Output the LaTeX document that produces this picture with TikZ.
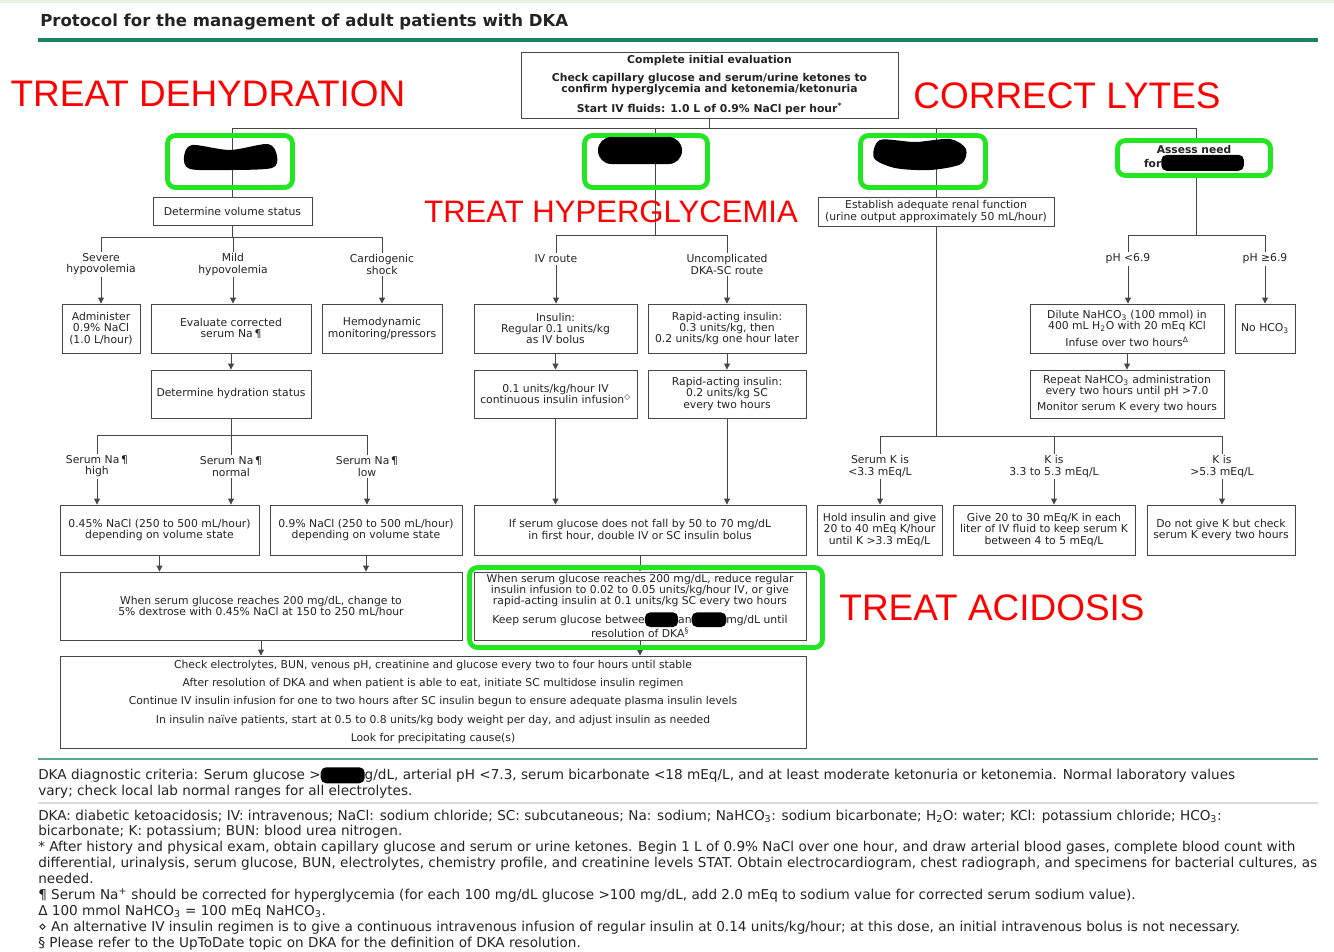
\documentclass[tikz,border=0pt]{standalone}
\usepackage{fontspec}
\setmainfont{DejaVu Sans}
\newfontfamily\redfont{Liberation Sans}
\usetikzlibrary{arrows.meta}

\definecolor{hlgreen}{RGB}{34,230,34}
\definecolor{rulegreen}{RGB}{30,130,95}
\definecolor{rulegreenlt}{RGB}{90,165,135}
\definecolor{boxline}{RGB}{70,70,70}
\definecolor{txt}{RGB}{35,35,35}
\definecolor{sepgray}{RGB}{218,218,218}
\definecolor{topband}{RGB}{232,240,228}

\newcommand{\inkblob}[2][22pt]{\raisebox{-2.5pt}{\tikz\fill[black, rounded corners=4pt] (0pt,0pt) rectangle (#1,#2);}}

\begin{document}
\begin{tikzpicture}[
  x=0.75pt, y=-0.75pt,
  box/.style={
    draw=boxline,
    line width=0.7pt,
    align=center,
    text=txt,
    inner sep=1pt,
    font=\fontsize{8.1}{8.4}\selectfont
  },
  lbl/.style={
    align=center,
    text=txt,
    inner sep=1pt,
    font=\fontsize{8.1}{8.4}\selectfont
  },
  wire/.style={
    draw=boxline,
    line width=0.7pt
  },
  arr/.style={
    wire,
    -{Triangle[length=4.5pt,width=4.5pt]}
  },
  hilite/.style={
    draw=hlgreen,
    line width=3.6pt,
    rounded corners=6pt
  },
  tag/.style={
    text=red,
    inner sep=0pt
  },
  note/.style={
    anchor=north west,
    align=left,
    text=txt,
    inner sep=0pt,
    font=\fontsize{10.2}{11.9}\selectfont
  },
  wh/.style 2 args={
    minimum width=#1*0.75pt,
    minimum height=#2*0.75pt
  }
]

\path[use as bounding box] (0,0) rectangle (1334,951);
\fill[topband] (0,0) rectangle (1334,3);
\node[anchor=west, text=txt, inner sep=0pt, font=\bfseries\fontsize{12.4}{13}\selectfont]
  (title) at (40,22) {Protocol for the management of adult patients with DKA};
\draw[rulegreen, line width=3pt] (38,40) -- (1318,40);

\node[box, wh={377}{66}, font=\bfseries\fontsize{8.1}{8.2}\selectfont] (init) at (709.5,85)
  {Complete initial evaluation\\[5pt]
   Check capillary glucose and serum/urine ketones to\\
   confirm hyperglycemia and ketonemia/ketonuria\\[5pt]
   Start IV fluids: 1.0 L of 0.9\% NaCl per hour\textsuperscript{*}};

\node[box, wh={159}{28}] (vol) at (232.5,211) {Determine volume status};
\node[lbl] (sev) at (101,264.5) {Severe\\hypovolemia};
\node[lbl] (mild) at (233,264.5) {Mild\\hypovolemia};
\node[lbl] (shock) at (382,264.5) {Cardiogenic\\shock};
\node[box, wh={78}{49}] (adm) at (101,328.5) {Administer\\0.9\% NaCl\\(1.0 L/hour)};
\node[box, wh={160}{49}] (evl) at (231,328.5) {Evaluate corrected\\serum Na\,¶};
\node[box, wh={120}{49}] (hemo) at (382,328.5) {Hemodynamic\\monitoring/pressors};
\node[box, wh={160}{48}] (hyd) at (231,394) {Determine hydration status};
\node[lbl] (nahigh) at (97,466.5) {Serum Na\,¶\\high};
\node[lbl] (nanorm) at (231,466.5) {Serum Na\,¶\\normal};
\node[lbl] (nalow) at (367,466.5) {Serum Na\,¶\\low};
\node[box, wh={199}{50}] (half) at (159.5,530)
  {0.45\% NaCl (250 to 500 mL/hour)\\depending on volume state};
\node[box, wh={192}{50}] (full) at (366,530)
  {0.9\% NaCl (250 to 500 mL/hour)\\depending on volume state};
\node[box, wh={402}{68}] (dex) at (261,606)
  {When serum glucose reaches 200 mg/dL, change to\\5\% dextrose with 0.45\% NaCl at 150 to 250 mL/hour};
\node[box, wh={746}{92}, font=\fontsize{8.1}{13.7}\selectfont] (final) at (433,702)
  {Check electrolytes, BUN, venous pH, creatinine and glucose every two to four hours until stable\\
   After resolution of DKA and when patient is able to eat, initiate SC multidose insulin regimen\\
   Continue IV insulin infusion for one to two hours after SC insulin begun to ensure adequate plasma insulin levels\\
   In insulin naïve patients, start at 0.5 to 0.8 units/kg body weight per day, and adjust insulin as needed\\
   Look for precipitating cause(s)};

\node[lbl] (ivroute) at (556,259) {IV route};
\node[lbl] (scroute) at (727,264.5) {Uncomplicated\\DKA-SC route};
\node[box, wh={163}{49}] (ivbolus) at (555.5,328.5) {Insulin:\\Regular 0.1 units/kg\\as IV bolus};
\node[box, wh={158}{49}] (scbolus) at (727,328.5)
  {Rapid-acting insulin:\\0.3 units/kg, then\\0.2 units/kg one hour later};
\node[box, wh={163}{48}] (ivinf) at (555.5,394)
  {0.1 units/kg/hour IV\\continuous insulin infusion\textsuperscript{◇}};
\node[box, wh={158}{48}] (screp) at (727,394) {Rapid-acting insulin:\\0.2 units/kg SC\\every two hours};
\node[box, wh={332}{50}] (nofall) at (640,530)
  {If serum glucose does not fall by 50 to 70 mg/dL\\in first hour, double IV or SC insulin bolus};
\node[box, wh={332}{68}] (reduce) at (640,606)
  {When serum glucose reaches 200 mg/dL, reduce regular\\
   insulin infusion to 0.02 to 0.05 units/kg/hour IV, or give\\
   rapid-acting insulin at 0.1 units/kg SC every two hours\\[3pt]
   Keep serum glucose betwee\inkblob[25pt]{11pt}an\inkblob[26pt]{11pt}mg/dL until\\
   resolution of DKA\textsuperscript{§}};

\node[box, wh={236}{29}] (renal) at (936,211.5)
  {Establish adequate renal function\\(urine output approximately 50 mL/hour)};
\node[lbl] (klow) at (880,466.5) {Serum K is\\<3.3 mEq/L};
\node[lbl] (kmid) at (1054,466.5) {K is\\3.3 to 5.3 mEq/L};
\node[lbl] (khigh) at (1222,466.5) {K is\\>5.3 mEq/L};
\node[box, wh={125}{50}] (holdk) at (879.5,530)
  {Hold insulin and give\\20 to 40 mEq K/hour\\until K >3.3 mEq/L};
\node[box, wh={182}{50}] (givek) at (1044,530)
  {Give 20 to 30 mEq/K in each\\liter of IV fluid to keep serum K\\between 4 to 5 mEq/L};
\node[box, wh={148}{50}] (nok) at (1221,530)
  {Do not give K but check\\serum K every two hours};

\node[lbl] (phlow) at (1128,259) {pH <6.9};
\node[lbl] (phhigh) at (1265,259) {pH ≥6.9};
\node[box, wh={194}{49}] (dilute) at (1127,328.5)
  {Dilute NaHCO\textsubscript{3} (100 mmol) in\\400 mL H\textsubscript{2}O with 20 mEq KCl\\[3pt]
   Infuse over two hours\textsuperscript{Δ}};
\node[box, wh={60}{49}] (nohco) at (1265,328.5) {No HCO\textsubscript{3}};
\node[box, wh={194}{48}] (repeat) at (1127,394)
  {Repeat NaHCO\textsubscript{3} administration\\every two hours until pH >7.0\\[3pt]
   Monitor serum K every two hours};

\coordinate (busA) at (232.5,128);
\coordinate (busB) at (655,128);
\coordinate (busC) at (936,128);
\coordinate (busD) at (1196,128);
\coordinate (volbr) at (232.5,237);
\coordinate (hydbr) at (231,435);
\coordinate (insbr) at (655,235);
\coordinate (kbr) at (936,436);
\coordinate (phbr) at (1196,235);

\draw[wire] (init.south) -- (init.south |- busA);
\draw[wire] (busA) -- (busD);
\draw[wire] (busA) -- (vol.north);
\draw[wire] (busB) -- (insbr);
\draw[wire] (busC) -- (renal.north);

\draw[wire] (vol.south) -- (volbr);
\draw[wire] (sev.north |- volbr) -- (shock.north |- volbr);
\foreach \n in {sev,mild,shock}
  \draw[wire] (\n.north |- volbr) -- (\n.north);
\draw[arr] (sev) -- (adm);
\draw[arr] (mild.south) -- (mild.south |- evl.north);
\draw[arr] (shock) -- (hemo);
\draw[arr] (evl) -- (hyd);
\draw[wire] (hyd.south) -- (hydbr);
\draw[wire] (nahigh.north |- hydbr) -- (nalow.north |- hydbr);
\foreach \n in {nahigh,nanorm,nalow}
  \draw[wire] (\n.north |- hydbr) -- (\n.north);
\draw[arr] (nahigh.south) -- (nahigh.south |- half.north);
\draw[arr] (nanorm.south) -- (nanorm.south |- half.north);
\draw[arr] (nalow.south) -- (nalow.south |- full.north);
\draw[arr] (half.south) -- (half.south |- dex.north);
\draw[arr] (full.south) -- (full.south |- dex.north);
\draw[arr] (dex.south) -- (dex.south |- final.north);

\draw[wire] (ivroute.north |- insbr) -- (scroute.north |- insbr);
\foreach \n in {ivroute,scroute}
  \draw[wire] (\n.north |- insbr) -- (\n.north);
\draw[arr] (ivroute.south) -- (ivroute.south |- ivbolus.north);
\draw[arr] (scroute) -- (scbolus);
\draw[arr] (ivbolus) -- (ivinf);
\draw[arr] (scbolus) -- (screp);
\draw[arr] (ivinf.south) -- (ivinf.south |- nofall.north);
\draw[arr] (screp.south) -- (screp.south |- nofall.north);
\draw[arr] (nofall) -- (reduce);
\draw[arr] (reduce.south) -- (reduce.south |- final.north);

\draw[wire] (renal.south) -- (kbr);
\draw[wire] (klow.north |- kbr) -- (khigh.north |- kbr);
\foreach \n in {klow,kmid,khigh}
  \draw[wire] (\n.north |- kbr) -- (\n.north);
\draw[arr] (klow.south) -- (klow.south |- holdk.north);
\draw[arr] (kmid.south) -- (kmid.south |- givek.north);
\draw[arr] (khigh.south) -- (khigh.south |- nok.north);

\node[hilite, wh={125}{52}] (fluids) at (230,161.5) {};
\node[hilite, wh={123}{52}] (insulin) at (646,161.5) {};
\node[hilite, wh={125}{52}] (potas) at (923,161.5) {};
\node[hilite, wh={353}{80}] (reducehl) at (646,607.5) {};
\node[hilite, fill=white, wh={153}{35}, lbl, text=txt, font=\bfseries\fontsize{8}{8.2}\selectfont]
  (bicarb) at (1194,158) {Assess need\\for\inkblob[62pt]{12pt}};

\fill[black] plot[smooth cycle] coordinates
  {(192,145) (230,150) (268,144) (277,156) (272,168) (230,170) (190,169) (184,157)};
\fill[black, rounded corners=10pt] (598,137) rectangle (682,164);
\fill[black] plot[smooth cycle] coordinates
  {(880,140) (915,142) (950,139) (966,149) (961,164) (930,170) (895,168) (874,158)};

\draw[wire] (busD) -- (busD |- bicarb.north);
\draw[wire] (busD |- bicarb.south) -- (phbr);
\draw[wire] (phlow.north |- phbr) -- (phhigh.north |- phbr);
\foreach \n in {phlow,phhigh}
  \draw[wire] (\n.north |- phbr) -- (\n.north);
\draw[arr] (phlow.south) -- (phlow.south |- dilute.north);
\draw[arr] (phhigh) -- (nohco);
\draw[arr] (dilute) -- (repeat);

\node[tag, font=\redfont\fontsize{27.7}{28}\selectfont] (tagdehy) at (208,94) {TREAT DEHYDRATION};
\node[tag, font=\redfont\fontsize{23.3}{24}\selectfont] (taghyp) at (611,212) {TREAT HYPERGLYCEMIA};
\node[tag, font=\redfont\fontsize{27.7}{28}\selectfont] (taglytes) at (1067,96) {CORRECT LYTES};
\node[tag, font=\redfont\fontsize{27.7}{28}\selectfont] (tagacid) at (992,608) {TREAT ACIDOSIS};

\draw[rulegreenlt, line width=1.6pt] (38,759) -- (1318,759);
\draw[sepgray, line width=0.8pt] (38,803) -- (1318,803);
\node[note] (criteria) at (38,767)
  {DKA diagnostic criteria: Serum glucose >\inkblob[33pt]{12pt}g/dL, arterial pH <7.3, serum bicarbonate <18 mEq/L, and at least moderate ketonuria or ketonemia. Normal laboratory values\\
   vary; check local lab normal ranges for all electrolytes.};
\node[note] (abbrev) at (38,809.5)
  {DKA: diabetic ketoacidosis; IV: intravenous; NaCl: sodium chloride; SC: subcutaneous; Na: sodium; NaHCO\textsubscript{3}: sodium bicarbonate; H\textsubscript{2}O: water; KCl: potassium chloride; HCO\textsubscript{3}:\\
   bicarbonate; K: potassium; BUN: blood urea nitrogen.\\
   * After history and physical exam, obtain capillary glucose and serum or urine ketones. Begin 1 L of 0.9\% NaCl over one hour, and draw arterial blood gases, complete blood count with\\
   differential, urinalysis, serum glucose, BUN, electrolytes, chemistry profile, and creatinine levels STAT. Obtain electrocardiogram, chest radiograph, and specimens for bacterial cultures, as\\
   needed.\\
   ¶ Serum Na\textsuperscript{+} should be corrected for hyperglycemia (for each 100 mg/dL glucose >100 mg/dL, add 2.0 mEq to sodium value for corrected serum sodium value).\\
   Δ 100 mmol NaHCO\textsubscript{3} = 100 mEq NaHCO\textsubscript{3}.\\
   ⋄ An alternative IV insulin regimen is to give a continuous intravenous infusion of regular insulin at 0.14 units/kg/hour; at this dose, an initial intravenous bolus is not necessary.\\
   § Please refer to the UpToDate topic on DKA for the definition of DKA resolution.};

\end{tikzpicture}
\end{document}
